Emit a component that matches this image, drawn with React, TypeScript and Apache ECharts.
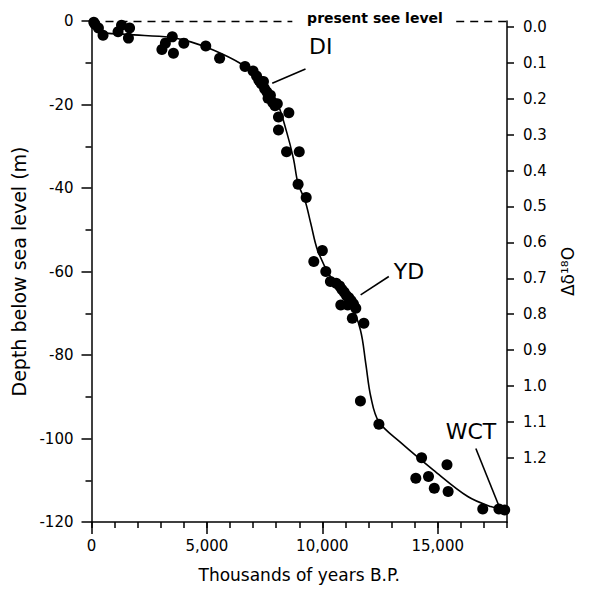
import React, { useEffect, useRef } from "react";
import * as echarts from "echarts";

// Sea-level data points (years B.P., depth in m)
const pointYears = [100, 150, 300, 500, 1150, 1300, 1650, 1600, 3050, 3200, 3500, 3550, 4000, 4950, 5550, 6650,
  7000, 7150, 7250, 7350, 7450, 7500, 7600, 7650, 7750, 7850, 7950, 8050,
  8100, 8550, 8100, 8450, 9000, 8950, 9300, 10000, 9630, 10150, 10350,
  10600, 10750, 10850, 10950, 11050, 11150, 11250, 11350, 11100, 11450,
  10800, 11300, 11800, 11650, 12450, 14300, 15400, 14050, 14600, 14850, 15450, 16950, 17650, 17900];
const pointDepths = [-0.3, -0.8, -1.7, -3.4, -2.6, -1, -1.7, -4.1, -6.8, -5.3, -3.8, -7.7, -5.3, -6, -8.9, -10.9,
  -12, -13.2, -14.2, -15, -14.5, -16.2, -17, -18.5, -17.8, -19.5, -20.3, -19.8,
  -23, -22, -26.1, -31.3, -31.3, -39.1, -42.3, -55, -57.6, -60, -62.4,
  -62.8, -63.5, -64.3, -65, -65.8, -66.3, -67, -67.8, -68, -68.8,
  -68, -71.2, -72.4, -91, -96.6, -104.6, -106.3, -109.5, -109.1, -111.9, -112.7, -116.9, -116.9, -117.1];

// Fitted sea-level curve
const curveYears = [0, 300, 1500, 3400, 4300, 5300, 6400, 7300, 8000, 8450, 8750, 8950, 9250, 9500, 9800, 10350,
  11200, 11650, 11880, 12100, 12450, 13400, 14800, 16300, 17300, 18000];
const curveDepths = [-0.5, -2.5, -3.2, -3.9, -5, -7, -10, -13.7, -19, -26.5, -33, -39, -43, -48.5, -55, -61.2,
  -67.6, -74, -82, -90, -96, -101, -107.5, -113.9, -116.3, -117.2];

// Annotations
const annotationNames = ["DI", "YD", "WCT"];
const annotationTextAt = [[9930, -6], [13750, -60.1], [16440, -98.4]];
const leaderLines = [
  [[9270, -11.5], [7830, -14.9]],
  [[12880, -61.2], [11660, -65.6]],
  [[16650, -102.4], [17660, -116.3]],
];
const presentLevelText = "present see level";
const presentLevelTextAt = [12280, 0];
const presentLevelSegments = [[0, 8700], [15800, 18000]];

// Axis ticks
const xMajorTicks = [0, 5000, 10000, 15000];
const rightTicks = [0, 0.1, 0.2, 0.3, 0.4, 0.5, 0.6, 0.7, 0.8, 0.9, 1.0, 1.1, 1.2];

const FONT = "DejaVu Sans";
const INK = "#000";

export default function App() {
  const ref = useRef<HTMLDivElement>(null);
  useEffect(() => {
    if (!ref.current) return;
    const chart = echarts.init(ref.current, null, { renderer: "svg" });
    const points = pointYears.map((x, i) => [x, pointDepths[i]]);
    const curve = curveYears.map((x, i) => [x, curveDepths[i]]);

    const series: any[] = [
      {
        type: "line",
        data: curve,
        smooth: 0.35,
        symbol: "none",
        lineStyle: { color: INK, width: 1.6 },
        z: 2,
        markLine: {
          silent: true,
          symbol: "none",
          label: { show: false },
          lineStyle: { color: INK, width: 1.3, type: [8, 6] },
          data: presentLevelSegments.map(([a, b]) => [{ coord: [a, 0] }, { coord: [b, 0] }]),
        },
      },
      {
        type: "scatter",
        data: points,
        symbolSize: 11,
        itemStyle: { color: INK, opacity: 1 },
        z: 3,
      },
      ...leaderLines.map((seg) => ({
        type: "line",
        data: seg,
        symbol: "none",
        lineStyle: { color: INK, width: 1.6 },
        z: 4,
      })),
      {
        type: "scatter",
        symbolSize: 0,
        clip: false,
        itemStyle: { opacity: 1 },
        data: annotationNames.map((n, i) => ({ name: n, value: annotationTextAt[i] })),
        label: {
          show: true,
          position: "inside",
          formatter: (p: any) => p.name,
          fontFamily: FONT,
          fontSize: 22,
          color: INK,
        },
        z: 5,
      },
      {
        type: "scatter",
        symbolSize: 0,
        clip: false,
        itemStyle: { opacity: 1 },
        data: [{ name: presentLevelText, value: presentLevelTextAt }],
        label: {
          show: true,
          position: "inside",
          offset: [0, -3],
          formatter: (p: any) => p.name,
          fontFamily: FONT,
          fontSize: 14,
          fontWeight: "bold",
          color: INK,
        },
        z: 5,
      },
    ];

    chart.setOption({
      animation: false,
      backgroundColor: "#fff",
      textStyle: { fontFamily: FONT, color: INK },
      grid: { left: 91.5, right: 85, top: 21, bottom: 72 },
      xAxis: [
        {
          type: "value",
          position: "bottom",
          min: 0,
          max: 18000,
          interval: 1000,
          axisLine: { show: true, onZero: false, lineStyle: { color: INK, width: 1.5 } },
          axisTick: { show: true, length: 6, lineStyle: { color: INK, width: 1.5 } },
          axisLabel: { show: false },
          splitLine: { show: false },
          name: "Thousands of years B.P.",
          nameLocation: "middle",
          nameGap: 44,
          nameTextStyle: { fontFamily: FONT, fontSize: 17, color: INK },
        },
        {
          type: "value",
          position: "bottom",
          offset: 0,
          min: 0,
          max: 18000,
          axisLine: { show: false, onZero: false },
          axisTick: { show: true, length: 12, customValues: xMajorTicks, lineStyle: { color: INK, width: 1.5 } },
          axisLabel: {
            show: true,
            customValues: xMajorTicks,
            margin: 16,
            fontFamily: FONT,
            fontSize: 15,
            color: INK,
            formatter: (v: number) => v.toLocaleString("en-US"),
          },
          splitLine: { show: false },
        },
      ],
      yAxis: [
        {
          type: "value",
          position: "left",
          min: -120,
          max: 0,
          interval: 20,
          axisLine: { show: true, onZero: false, lineStyle: { color: INK, width: 1.5 } },
          axisTick: { show: true, length: 10, lineStyle: { color: INK, width: 1.5 } },
          minorTick: { show: true, splitNumber: 2, length: 6, lineStyle: { color: INK, width: 1.5 } },
          axisLabel: { margin: 18, fontFamily: FONT, fontSize: 15, color: INK },
          splitLine: { show: false },
          name: "Depth below sea level (m)",
          nameLocation: "middle",
          nameRotate: 90,
          nameGap: 58,
          nameTextStyle: { fontFamily: FONT, fontSize: 19, color: INK },
        },
        {
          type: "value",
          position: "right",
          inverse: true,
          min: -0.0167,
          max: 1.379,
          axisLine: { show: true, onZero: false, lineStyle: { color: INK, width: 1.5 } },
          axisTick: { show: true, length: 7, customValues: rightTicks, lineStyle: { color: INK, width: 1.5 } },
          axisLabel: {
            show: true,
            customValues: rightTicks,
            margin: 16,
            fontFamily: FONT,
            fontSize: 15,
            color: INK,
            formatter: (v: number) => v.toFixed(1),
          },
          splitLine: { show: false },
          name: "Δδ¹⁸O",
          nameLocation: "middle",
          nameRotate: 90,
          nameGap: 52,
          nameTextStyle: { fontFamily: FONT, fontSize: 17, color: INK },
        },
      ],
      series,
    });
    return () => chart.dispose();
  }, []);

  return (
    <div
      ref={ref}
      style={{ position: "fixed", left: 0, top: 0, width: 592, height: 594 }}
    />
  );
}
